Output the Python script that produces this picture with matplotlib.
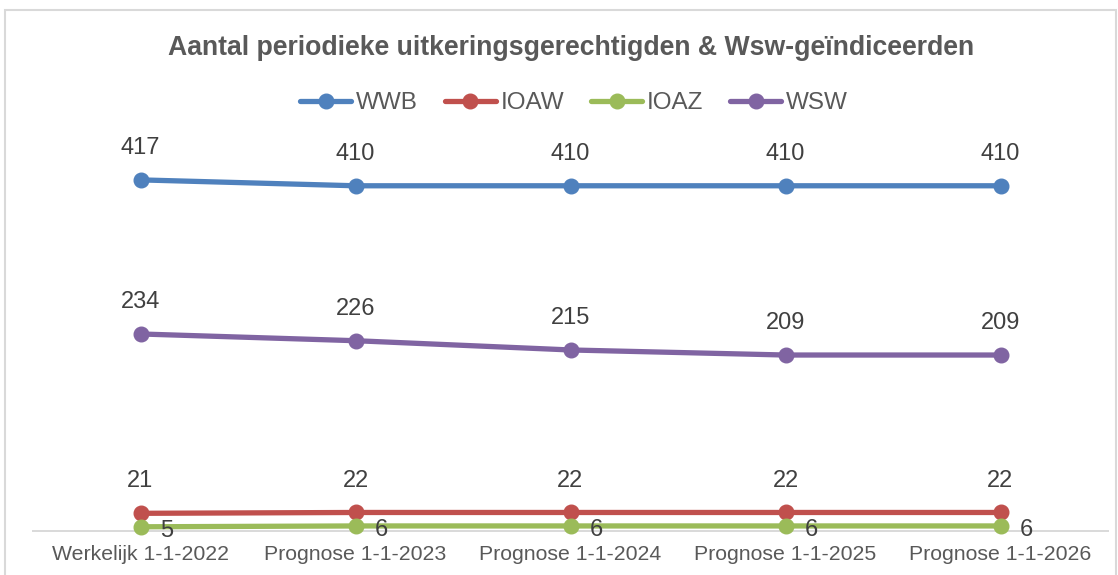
import matplotlib
matplotlib.use('Agg')
import matplotlib.pyplot as plt
from matplotlib.patches import Rectangle

# =============================================================================
# DATA
categories = ['Werkelijk 1-1-2022', 'Prognose 1-1-2023', 'Prognose 1-1-2024',
              'Prognose 1-1-2025', 'Prognose 1-1-2026']
wwb = [417, 410, 410, 410, 410]
ioaw = [21, 22, 22, 22, 22]
ioaz = [5, 6, 6, 6, 6]
wsw = [234, 226, 215, 209, 209]

series_names = ['WWB', 'IOAW', 'IOAZ', 'WSW']
series_values = [wwb, ioaw, ioaz, wsw]
colors = ['#4F81BD', '#C0504D', '#9BBB59', '#8064A2']

plt.rcParams['font.family'] = ['Liberation Sans', 'DejaVu Sans']

# =============================================================================
W, H = 1118, 575
fig = plt.figure(figsize=(W / 100, H / 100), dpi=100)
ax = fig.add_axes([33 / W, 44 / H, (1108 - 33) / W, (531 - 110) / H])

x = list(range(len(categories)))
handles = []
for name, vals, c in zip(series_names, series_values, colors):
    h, = ax.plot(x, vals, color=c, lw=3.8, marker='o', ms=10.5,
                 solid_capstyle='round', label=name, zorder=3, clip_on=False)
    handles.append(h)
    for xi, v in zip(x, vals):
        if name == 'IOAZ':
            ax.annotate(str(v), (xi, v), xytext=(14, -3), textcoords='offset points',
                        ha='left', va='center', fontsize=17, color='#404040')
        else:
            ax.annotate(str(v), (xi, v), xytext=(0, 23), textcoords='offset points',
                        ha='center', va='center', fontsize=17, color='#404040')

ax.set_xlim(-0.5, len(categories) - 0.5)
ax.set_ylim(0, 500)
ax.set_yticks([])
ax.set_xticks(x)
ax.set_xticklabels(categories, fontsize=15.3, color='#595959')
ax.tick_params(axis='x', length=0, pad=10)
for s in ['top', 'right', 'left']:
    ax.spines[s].set_visible(False)
ax.spines['bottom'].set_color('#D9D9D9')
ax.spines['bottom'].set_linewidth(1.4)
ax.spines['bottom'].set_zorder(1)
ax.patch.set_visible(False)

# Title and legend (centred over the plot area, not the figure)
cx = 571 / W
fig.text(cx, 1 - 48 / H, 'Aantal periodieke uitkeringsgerechtigden & Wsw-geïndiceerden',
         ha='center', va='center', fontsize=19.2, fontweight='bold', color='#595959')
fig.legend(handles=handles, loc='center', bbox_to_anchor=(574 / W, 1 - 103 / H),
           ncol=4, frameon=False, fontsize=17.5, labelcolor='#595959',
           handlelength=2.1, handletextpad=0.2, columnspacing=1.1,
           borderaxespad=0, borderpad=0)

# chart border
fig.patches.append(Rectangle((5 / W, -0.1), (1116 - 5) / W, 1.1 - 10 / H,
                             transform=fig.transFigure, fill=False,
                             ec='#D9D9D9', lw=1.5))

fig.savefig('out.png', dpi=100)
